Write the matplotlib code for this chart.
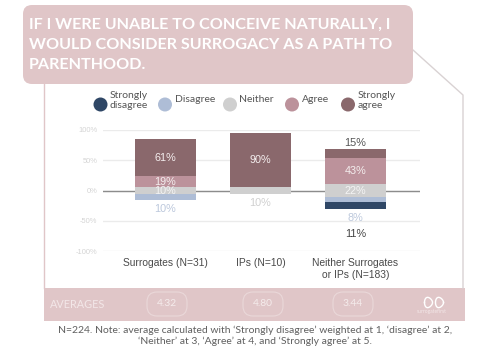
import matplotlib
matplotlib.use("Agg")
import matplotlib.pyplot as plt
import matplotlib.patches as mpatches
import numpy as np

groups = ["Surrogates (N=31)", "IPs (N=10)", "Neither Surrogates\nor IPs (N=183)"]
levels = ["Strongly\ndisagree", "Disagree", "Neither", "Agree", "Strongly\nagree"]
strongly_disagree = [0, 0, 11]
disagree = [10, 0, 8]
neither = [10, 10, 22]
agree = [19, 0, 43]
strongly_agree = [61, 90, 15]
averages = ["4.32", "4.80", "3.44"]
y_ticks = [-100, -50, 0, 50, 100]
colors = ["#2f4766", "#aebdd6", "#cfcfcf", "#bc929b", "#8a686c"]

PINK = "#e0c6c8"
W, H = 500, 350

fig = plt.figure(figsize=(5, 3.5), dpi=100)

# background layer in pixel coordinates, y pointing down
bg = fig.add_axes([0, 0, 1, 1])
bg.set_xlim(0, W)
bg.set_ylim(H, 0)
bg.axis("off")

bg.plot([44, 44], [84, 288], color=PINK, lw=1)
bg.plot([413, 463, 463], [50, 95, 288], color="#d9d2d3", lw=1)
bg.add_patch(mpatches.Rectangle((44, 288), 421, 33, facecolor=PINK, edgecolor="none"))
bg.add_patch(mpatches.FancyBboxPatch((29, 11), 378, 67, boxstyle="round,pad=6,rounding_size=9",
                                     facecolor=PINK, edgecolor="none", zorder=3))
title_lines = ["IF I WERE UNABLE TO CONCEIVE NATURALLY, I",
               "WOULD CONSIDER SURROGACY AS A PATH TO",
               "PARENTHOOD."]
for ty, line in zip([25, 45, 65], title_lines):
    bg.text(29, ty, line, color="white", fontsize=11.6, fontweight="bold", family="Lato",
            va="center", zorder=4)

# legend
legend_x = [100.5, 165, 230, 292, 348]
legend_y = [100.5, 100, 99.5, 99.5, 100.5]
for lx, ly, label, c in zip(legend_x, legend_y, levels, colors):
    bg.add_patch(mpatches.Circle((lx, 104.5), 7, facecolor=c, edgecolor="none"))
    bg.text(lx + 9.5, ly, label, fontsize=7.5, color="#555555", family="Lato",
            va="center", ha="left", linespacing=1.2)

# averages band
bg.text(50, 304, "AVERAGES", color="#f3e7e8", fontsize=7.8, family="Lato", va="center")
for px, avg in zip([167, 263, 353], averages):
    bg.add_patch(mpatches.FancyBboxPatch((px - 13, 299), 26, 10, boxstyle="round,pad=7,rounding_size=10",
                                         facecolor="none", edgecolor="#ead8d9", lw=0.8))
    bg.text(px, 304, avg, color="#f5ecec", fontsize=7.4, family="Lato", ha="center", va="center")

# logo
wing = np.linspace(0, 2 * np.pi, 60)
for sign in [-1, 1]:
    bg.plot(434 + sign * (5.5 + 4 * np.cos(wing)), 302.5 + 5 * np.sin(wing) * (1 - 0.25 * sign * np.cos(wing)),
            color="white", lw=1)
bg.text(432, 312, "surrogatefirst", color="#f3e7e8", fontsize=3.6, family="Lato", ha="center", va="center")

# footnote
bg.text(255, 330, "N=224. Note: average calculated with \u2018Strongly disagree\u2019 weighted at 1, \u2018disagree\u2019 at 2,",
        fontsize=7.5, color="#606060", family="Lato", ha="center", va="center")
bg.text(255, 341, "\u2018Neither\u2019 at 3, \u2018Agree\u2019 at 4, and \u2018Strongly agree\u2019 at 5.",
        fontsize=7.5, color="#606060", family="Lato", ha="center", va="center")

# chart
ax = fig.add_axes([103 / W, 1 - 251 / H, 317 / W, 121 / H])
ax.patch.set_alpha(0)
ax.set_xlim(-0.658, 2.68)
ax.set_ylim(-100, 100)

x = np.arange(len(groups))
sd = np.array(strongly_disagree)
d = np.array(disagree)
n = np.array(neither)
a = np.array(agree)
sa = np.array(strongly_agree)
width = 0.645

# diverging stack, neutral split around zero
ax.bar(x, n, width, bottom=-n / 2, color=colors[2], zorder=2)
ax.bar(x, a, width, bottom=n / 2, color=colors[3], zorder=2)
ax.bar(x, sa, width, bottom=n / 2 + a, color=colors[4], zorder=2)
ax.bar(x, -d, width, bottom=-n / 2, color=colors[1], zorder=2)
ax.bar(x, -sd, width, bottom=-n / 2 - d, color=colors[0], zorder=2)

ax.set_yticks(y_ticks)
ax.set_yticklabels([f"{t}%" for t in y_ticks], fontsize=5.4, color="#d4d4d4", family="Liberation Sans")
ax.set_xticks(x)
ax.set_xticklabels(groups, fontsize=7.4, color="#4a4a4a", family="Liberation Sans", linespacing=1.3)
ax.tick_params(length=0, pad=5)
ax.tick_params(axis="y", pad=4)
ax.set_axisbelow(True)
ax.grid(axis="y", color="#ebebeb", lw=1)
for s in ax.spines.values():
    s.set_visible(False)
ax.axhline(0, color="#8c8c8c", lw=1, zorder=1)


def lab(xp, yp, s, c):
    ax.text(xp, yp, s, color=c, fontsize=7.8, family="Liberation Sans", ha="center", va="center", zorder=3)


lab(0, n[0] / 2 + a[0] + sa[0] / 2, f"{sa[0]}%", "#f4eeee")
lab(0, n[0] / 2 + a[0] / 2, f"{a[0]}%", "#f4eeee")
lab(0, -1, f"{n[0]}%", "#f4f4f4")
lab(0, -n[0] / 2 - d[0] - 16, f"{d[0]}%", "#bcc8dc")
lab(1, n[1] / 2 + sa[1] / 2, f"{sa[1]}%", "#f4eeee")
lab(1, -n[1] / 2 - 15, f"{n[1]}%", "#d0d0d0")
lab(2, n[2] / 2 + a[2] + sa[2] + 10, f"{sa[2]}%", "#555555")
lab(2, n[2] / 2 + a[2] / 2, f"{a[2]}%", "#f4eeee")
lab(2, -1, f"{n[2]}%", "#f4f4f4")
lab(2, -46, f"{d[2]}%", "#bcc8dc")
lab(2, -72, f"{sd[2]}%", "#444444")

fig.savefig("out.png", dpi=100)
